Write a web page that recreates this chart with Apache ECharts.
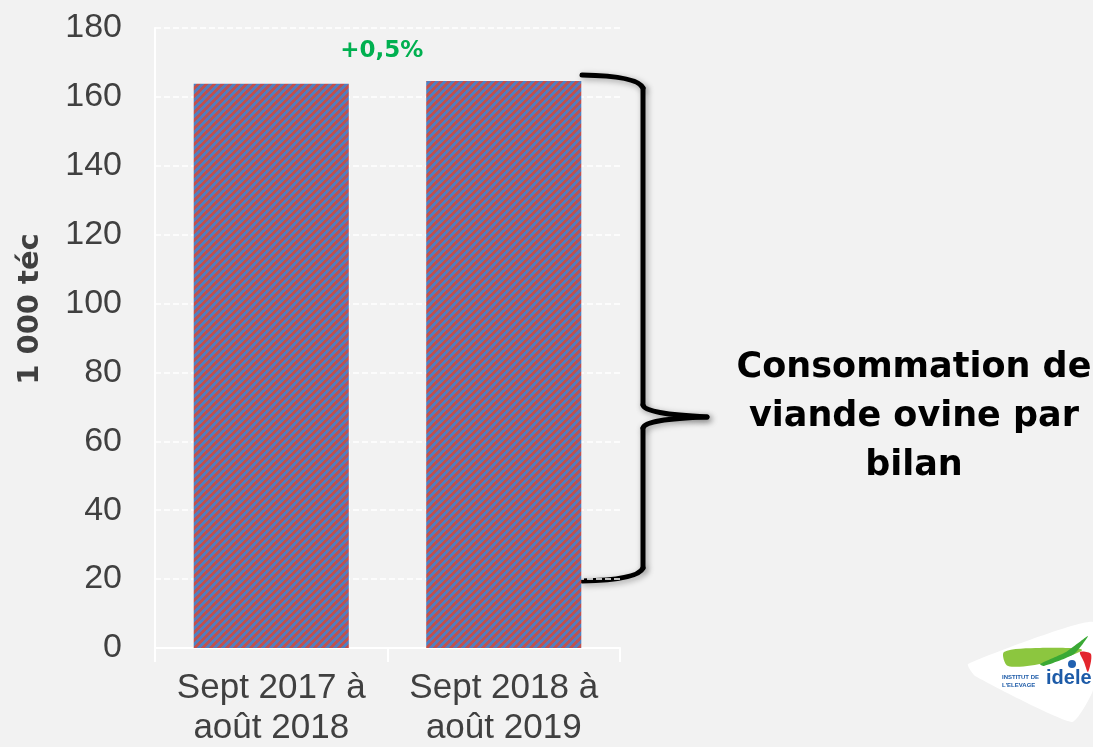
<!DOCTYPE html>
<html>
<head>
<meta charset="utf-8">
<script src="https://cdn.jsdelivr.net/npm/echarts@6/dist/echarts.min.js"></script>
<style>html,body{margin:0;padding:0;background:#f2f2f2;}#c{width:1093px;height:747px;}</style>
</head>
<body>
<div id="c"></div>
<script>
const categories = ['Sept 2017 à\naoût 2018', 'Sept 2018 à\naoût 2019'];
const values = [163.8, 164.6];
const yTicks = { min: 0, max: 180, interval: 20 };
const yTitle = '1 000 téc';
const changeLabel = '+0,5%';
const braceText = 'Consommation de\nviande ovine par\nbilan';

function hatch() {
  const P = 8;
  const c = document.createElement('canvas');
  c.width = P; c.height = P;
  const g = c.getContext('2d');
  for (let x = 0; x < P; x++) {
    for (let y = 0; y < P; y++) {
      g.fillStyle = ((x + y) % P) < 4 ? '#c0504d' : '#4f7fc0';
      g.fillRect(x, y, 1, 1);
    }
  }
  return c;
}

const braceStyle = { fill: null, stroke: '#000', lineWidth: 5, lineCap: 'round', shadowBlur: 6, shadowColor: 'rgba(0,0,0,0.35)', shadowOffsetX: 2, shadowOffsetY: 2 };
function curve(x1, y1, cx, cy, x2, y2) {
  return { type: 'bezierCurve', shape: { x1: x1, y1: y1, cpx1: cx, cpy1: cy, x2: x2, y2: y2 }, style: braceStyle };
}
function seg(x1, y1, x2, y2) {
  return { type: 'line', shape: { x1: x1, y1: y1, x2: x2, y2: y2 }, style: braceStyle };
}

const chart = echarts.init(document.getElementById('c'));
const font = '"Liberation Sans", Arial, sans-serif';
const boldFont = '"DejaVu Sans", sans-serif';
chart.setOption({
  backgroundColor: '#f2f2f2',
  animation: false,
  grid: { left: 155, right: 473, top: 28, bottom: 99, outerBoundsMode: 'none', containLabel: false },
  xAxis: {
    type: 'category',
    data: categories,
    axisLine: { lineStyle: { color: '#ffffff', width: 2 } },
    axisTick: { show: true, interval: 0, length: 14, lineStyle: { color: '#ffffff', width: 2 } },
    axisLabel: { interval: 0, hideOverlap: false, color: '#404040', fontSize: 35, fontFamily: font, lineHeight: 40, margin: 20 }
  },
  yAxis: {
    type: 'value',
    min: yTicks.min, max: yTicks.max, interval: yTicks.interval,
    axisLine: { show: true, lineStyle: { color: '#ffffff', width: 2 } },
    axisTick: { show: false },
    splitLine: { lineStyle: { color: '#ffffff', width: 1.5, type: [6, 3] } },
    axisLabel: { color: '#404040', fontSize: 34, fontFamily: font, margin: 33 }
  },
  series: [{
    type: 'bar',
    data: values,
    barWidth: '66.7%',
    itemStyle: { color: { image: hatch(), repeat: 'repeat' } },
    markPoint: {
      symbol: 'circle', symbolSize: 0,
      data: [{ coord: [1, values[1]], value: changeLabel }],
      label: {
        show: true, formatter: changeLabel, position: 'top', offset: [-122, -14],
        color: '#00b050', fontSize: 23, fontWeight: 'bold', fontFamily: boldFont
      }
    }
  }],
  graphic: [
    {
      type: 'text', x: 30, y: 309, rotation: Math.PI / 2,
      style: { text: yTitle, fill: '#404040', font: 'bold 29px ' + boldFont, align: 'center', verticalAlign: 'middle' }
    },
    curve(582, 75, 638, 76, 643, 88),
    seg(643, 88, 643, 405),
    curve(643, 405, 645, 414, 707, 417),
    curve(707, 417, 645, 419, 643, 428),
    seg(643, 428, 643, 568),
    curve(643, 568, 638, 580, 582, 581),
    {
      type: 'text', x: 914, y: 343,
      style: { text: braceText, fill: '#000', font: 'bold 35px ' + boldFont, align: 'center', lineHeight: 49 }
    },
    {
      type: 'polygon',
      shape: { points: [[968, 664], [1093, 622], [1093, 690], [1072, 722], [975, 676]], smooth: 0.15 },
      style: { fill: '#ffffff' }
    },
    {
      type: 'polygon',
      shape: { points: [[1004, 652], [1040, 648], [1082, 650], [1045, 663], [1008, 666]], smooth: 0.3 },
      style: { fill: '#8cc63f' }
    },
    {
      type: 'polygon',
      shape: { points: [[1040, 664], [1066, 652], [1088, 636], [1074, 654], [1044, 666]], smooth: 0.2 },
      style: { fill: '#3aa935' }
    },
    {
      type: 'polygon',
      shape: { points: [[1080, 652], [1091, 654], [1088, 672], [1084, 662]], smooth: 0.3 },
      style: { fill: '#e3262d' }
    },
    {
      type: 'circle', shape: { cx: 1072, cy: 664, r: 4 }, style: { fill: '#2060b0' }
    },
    {
      type: 'text', x: 1002, y: 673,
      style: { text: "INSTITUT DE\nL'ELEVAGE", fill: '#1d5ba8', font: 'bold 6px ' + font, lineHeight: 8 }
    },
    {
      type: 'text', x: 1046, y: 668,
      style: { text: 'idele', fill: '#1d5ba8', font: 'bold 20px ' + font }
    }
  ]
});
</script>
</body>
</html>
